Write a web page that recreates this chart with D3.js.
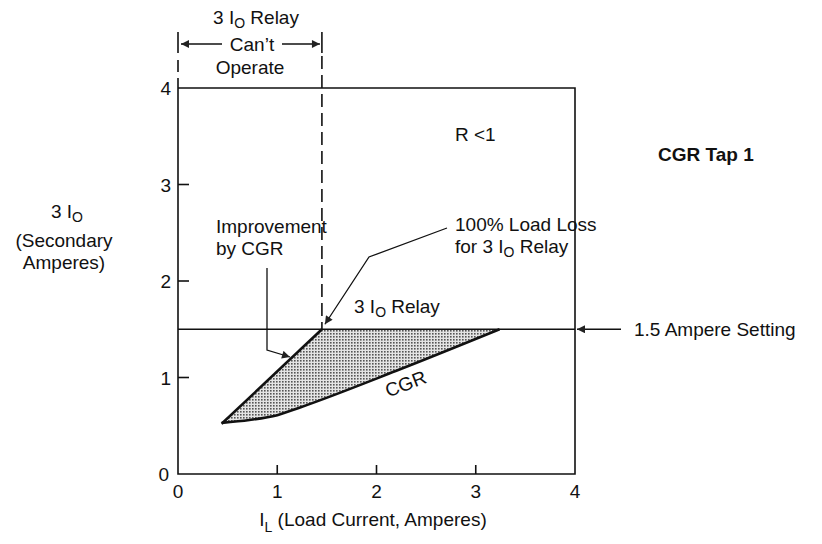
<!DOCTYPE html>
<html>
<head>
<meta charset="utf-8">
<script src="https://d3js.org/d3.v7.min.js"></script>
<style>
body { margin: 0; background: #fff; }
text { font-family: "Liberation Sans", Arial, Helvetica, sans-serif; fill: #111; }
</style>
</head>
<body>
<div id="chart"></div>
<script>
// values
var xTicks = [0, 1, 2, 3, 4];
var yTicks = [0, 1, 2, 3, 4];
var setting = 1.5;
var relayX = [0.44, 1.45];
var relayY = [0.52, 1.5];
var cgrX = [0.44, 0.72, 1.0, 1.23, 2.2, 3.24];
var cgrY = [0.53, 0.56, 0.61, 0.69, 1.07, 1.5];

var width = 822, height = 544;
var fs = "19px";

var svg = d3.select("#chart").append("svg")
    .attr("width", width)
    .attr("height", height);

var x = d3.scaleLinear().domain([0, 4]).range([178, 575]),
    y = d3.scaleLinear().domain([0, 4]).range([474, 88]);

var defs = svg.append("defs");
var pat = defs.append("pattern")
    .attr("id", "dots")
    .attr("width", 3).attr("height", 3)
    .attr("patternUnits", "userSpaceOnUse");
pat.append("rect").attr("width", 3).attr("height", 3).attr("fill", "#e4e4e4");
pat.append("rect").attr("width", 1.6).attr("height", 1.6).attr("fill", "#555");

defs.append("marker")
    .attr("id", "arrow")
    .attr("viewBox", "0 0 10 10")
    .attr("refX", 10).attr("refY", 5)
    .attr("markerWidth", 12).attr("markerHeight", 8)
    .attr("markerUnits", "userSpaceOnUse")
    .attr("orient", "auto")
  .append("path")
    .attr("d", "M0,0 L10,5 L0,10 z")
    .attr("fill", "#222");

var relay = relayX.map(function(d, i) { return [d, relayY[i]]; });
var cgr = cgrX.map(function(d, i) { return [d, cgrY[i]]; });

// shaded region between relay line, setting line and CGR curve
var cgrLine = d3.line().x(function(d) { return x(d[0]); }).y(function(d) { return y(d[1]); })
    .curve(d3.curveMonotoneX);
var straight = d3.line().x(function(d) { return x(d[0]); }).y(function(d) { return y(d[1]); });

var cgrPath = cgrLine(cgr);
svg.append("path")
    .attr("d", cgrPath + "L" + x(relayX[1]) + "," + y(relayY[1]) + "Z")
    .attr("fill", "url(#dots)")
    .attr("stroke", "none");

// frame
var g = svg.append("g").attr("fill", "none").attr("stroke", "#111").attr("stroke-width", 1.6);
g.append("path")
    .attr("d", "M" + x(0) + "," + y(4) + "V" + y(0) + "H" + x(4) + "V" + y(4) + "H" + x(0));

// ticks pointing in
g.selectAll(".ytick").data(yTicks.slice(1, 4)).enter().append("line")
    .attr("x1", x(0)).attr("x2", x(0) + 11)
    .attr("y1", function(d) { return y(d); }).attr("y2", function(d) { return y(d); });
g.selectAll(".xtick").data(xTicks.slice(1, 4)).enter().append("line")
    .attr("x1", function(d) { return x(d); }).attr("x2", function(d) { return x(d); })
    .attr("y1", y(0)).attr("y2", y(0) - 9);

// setting line
g.append("line")
    .attr("x1", x(0)).attr("x2", x(4))
    .attr("y1", y(setting)).attr("y2", y(setting))
    .attr("stroke-width", 1.4);

// relay and CGR characteristic
g.append("path").attr("d", straight(relay)).attr("stroke-width", 2.6);
g.append("path").attr("d", cgrPath).attr("stroke-width", 2.6);

// dashed verticals for "can't operate"
g.append("line")
    .attr("x1", x(relayX[1])).attr("x2", x(relayX[1]))
    .attr("y1", 56).attr("y2", y(setting))
    .attr("stroke-dasharray", "13,6");
g.append("line")
    .attr("x1", x(0)).attr("x2", x(0))
    .attr("y1", 60).attr("y2", y(4))
    .attr("stroke-dasharray", "12,6");
g.selectAll(".brk").data([0, relayX[1]]).enter().append("line")
    .attr("x1", function(d) { return x(d); }).attr("x2", function(d) { return x(d); })
    .attr("y1", 32).attr("y2", 53);

// arrows
g.append("line").attr("x1", 222).attr("x2", x(0) + 3).attr("y1", 44).attr("y2", 44)
    .attr("stroke-width", 1.4).attr("marker-end", "url(#arrow)");
g.append("line").attr("x1", 282).attr("x2", x(relayX[1]) - 2).attr("y1", 44).attr("y2", 44)
    .attr("stroke-width", 1.4).attr("marker-end", "url(#arrow)");
g.append("path").attr("d", "M267,268 V350 L290,357")
    .attr("stroke-width", 1.3).attr("marker-end", "url(#arrow)");
g.append("path").attr("d", "M447,228 L369,257 L" + (x(relayX[1]) + 3) + "," + (y(setting) - 5))
    .attr("stroke-width", 1.3).attr("marker-end", "url(#arrow)");
g.append("line").attr("x1", 621).attr("x2", x(4) + 2).attr("y1", y(setting)).attr("y2", y(setting))
    .attr("stroke-width", 1.3).attr("marker-end", "url(#arrow)");

// tick labels
svg.selectAll(".xl").data(xTicks).enter().append("text")
    .attr("x", function(d) { return x(d); })
    .attr("y", 498)
    .attr("text-anchor", "middle")
    .style("font-size", fs)
    .text(function(d) { return d; });
svg.selectAll(".yl").data(yTicks).enter().append("text")
    .attr("x", function(d) { return d === 0 ? 169 : 171; })
    .attr("y", function(d) { return y(d) + 7; })
    .attr("text-anchor", "end")
    .style("font-size", fs)
    .text(function(d) { return d; });

// text with "3 I o" subscript
function sub3I(sel, xx, yy, anchor, before, after) {
  var t = sel.append("text").attr("x", xx).attr("y", yy)
      .attr("text-anchor", anchor).style("font-size", fs);
  t.append("tspan").text(before + "3 I");
  t.append("tspan").attr("dy", 4).style("font-size", "14px").text("O");
  t.append("tspan").attr("dy", -4).text(after);
  return t;
}

sub3I(svg, 256, 24, "middle", "", " Relay");
svg.append("text").attr("x", 252).attr("y", 51).attr("text-anchor", "middle")
    .style("font-size", fs).text("Can\u2019t");
svg.append("text").attr("x", 250).attr("y", 74).attr("text-anchor", "middle")
    .style("font-size", fs).text("Operate");

sub3I(svg, 67, 218, "middle", "", "");
svg.append("text").attr("x", 64).attr("y", 247).attr("text-anchor", "middle")
    .style("font-size", fs).text("(Secondary");
svg.append("text").attr("x", 64).attr("y", 269).attr("text-anchor", "middle")
    .style("font-size", fs).text("Amperes)");

svg.append("text").attr("x", 216).attr("y", 233).style("font-size", fs).text("Improvement");
svg.append("text").attr("x", 216).attr("y", 255).style("font-size", fs).text("by CGR");

svg.append("text").attr("x", 455).attr("y", 231).style("font-size", fs).text("100% Load Loss");
sub3I(svg, 455, 253, "start", "for ", " Relay");

sub3I(svg, 354, 313, "start", "", " Relay");

svg.append("text").attr("x", 455).attr("y", 141).style("font-size", fs).text("R <1");

svg.append("text").attr("x", 658).attr("y", 161)
    .style("font-size", fs).style("font-weight", "bold").text("CGR Tap 1");

svg.append("text").attr("x", 634).attr("y", y(setting) + 7)
    .style("font-size", fs).text("1.5 Ampere Setting");

svg.append("text")
    .attr("transform", "translate(408,390) rotate(-21)")
    .attr("text-anchor", "middle")
    .style("font-size", fs).text("CGR");

// x axis title with subscript L
var xt = svg.append("text").attr("x", 373).attr("y", 526).attr("text-anchor", "middle")
    .style("font-size", fs);
xt.append("tspan").text("I");
xt.append("tspan").attr("dy", 6).style("font-size", "14px").text("L");
xt.append("tspan").attr("dy", -6).text(" (Load Current, Amperes)");
</script>
</body>
</html>
